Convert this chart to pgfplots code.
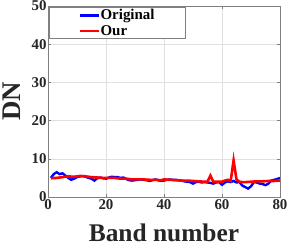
\documentclass[border=0pt]{standalone}
\usepackage{fontspec}
\setmainfont{Liberation Serif}
\usepackage{pgfplots}
\pgfplotsset{compat=1.18}
\begin{document}
\begin{tikzpicture}
\useasboundingbox (-48bp,-50bp) rectangle (243bp,197bp);
\begin{axis}[
  at={(0,0)}, anchor=south west,
  scale only axis,
  width=232bp, height=191bp,
  xmin=0, xmax=80, ymin=0, ymax=50,
  xtick={0,20,40,60,80}, ytick={0,10,20,30,40,50},
  grid=major,
  major grid style={black!12, line width=0.4pt},
  axis line style={black!50, line width=0.6pt},
  tick style={black!50, line width=0.6pt},
  major tick length=3bp,
  tick align=inside,
  /pgf/number format/assume math mode=true,
  ticklabel style={font=\bfseries\fontsize{15}{15}\selectfont, text=black!85},
  xticklabel style={yshift=0.5bp},
  yticklabel style={xshift=2bp},
  xlabel={Band number}, ylabel={DN},
  xlabel style={font=\bfseries\fontsize{25.5}{25.5}\selectfont, text=black!85,
    at={(axis description cs:0.5,-0.2356)}, anchor=base},
  ylabel style={font=\bfseries\fontsize{27}{27}\selectfont, text=black!85,
    at={(axis description cs:-0.1164,0.5)}, anchor=base},
  legend style={at={(axis description cs:0.0043,0.9948)}, anchor=north west,
    draw=black!50, line width=0.6pt, fill=white,
    font=\bfseries\fontsize{15}{15}\selectfont,
    inner xsep=0pt, inner ysep=2bp, nodes={inner sep=0pt}, row sep=4bp,
    /tikz/every even column/.append style={column sep=3bp},
    legend cell align=left},
  legend image code/.code={\path[draw=none] (0bp,0bp) -- (50bp,0bp); \draw[#1, line width=2.6pt] (31bp,0bp) -- (50bp,0bp);},
]
\addplot[blue, line width=2.4pt] coordinates {
(1,5.0)(2,6.0)(3,6.5)(4,6.0)(5,6.2)(6,5.6)(7,5.0)(8,4.5)(9,4.8)(10,5.2)(11,5.4)(12,5.5)(13,5.3)(14,5.0)(15,4.8)(16,4.3)(17,4.9)(18,5.1)(19,4.9)(20,4.8)(21,5.1)(22,5.3)(23,5.2)(24,5.2)(25,5.0)(26,5.1)(27,4.7)(28,4.4)(29,4.3)(30,4.4)(31,4.5)(32,4.6)(33,4.5)(34,4.4)(35,4.2)(36,4.4)(37,4.6)(38,4.4)(39,4.2)(40,4.3)(41,4.5)(42,4.6)(43,4.5)(44,4.5)(45,4.4)(46,4.3)(47,4.1)(48,4.0)(49,3.9)(50,3.5)(51,3.9)(52,4.0)(53,3.8)(54,3.9)(55,3.8)(56,3.7)(57,3.5)(58,3.8)(59,3.9)(60,3.2)(61,3.8)(62,4.1)(63,3.9)(64,4.2)(65,3.8)(66,3.9)(67,3.0)(68,2.6)(69,2.2)(70,2.8)(71,3.9)(72,3.8)(73,3.5)(74,3.4)(75,3.1)(76,3.5)(77,4.3)(78,4.5)(79,4.7)(80,5.0)
};
\addlegendentry{\makebox[85bp][l]{Original}}
\addplot[red, line width=2.6pt] coordinates {
(1,4.9)(3,5.0)(5,5.2)(7,5.4)(9,5.3)(11,5.5)(13,5.4)(15,5.2)(17,5.1)(19,5.0)(21,5.0)(23,5.0)(25,4.8)(27,4.8)(29,4.6)(31,4.6)(33,4.6)(35,4.5)(37,4.5)(39,4.4)(40,4.6)(42,4.5)(44,4.4)(46,4.3)(48,4.3)(50,4.2)(52,4.1)(54,4.0)(55,4.0)(56,5.6)(57,4.0)(58,4.0)(60,4.0)(61,4.3)(62,4.5)(63,4.2)(64,9.6)(65,4.6)(66,4.0)(67,3.9)(68,3.9)(70,4.0)(72,4.1)(74,4.1)(76,4.2)(78,4.2)(80,4.3)
};
\addlegendentry{\makebox[85bp][l]{Our}}
\end{axis}
\end{tikzpicture}
\end{document}
